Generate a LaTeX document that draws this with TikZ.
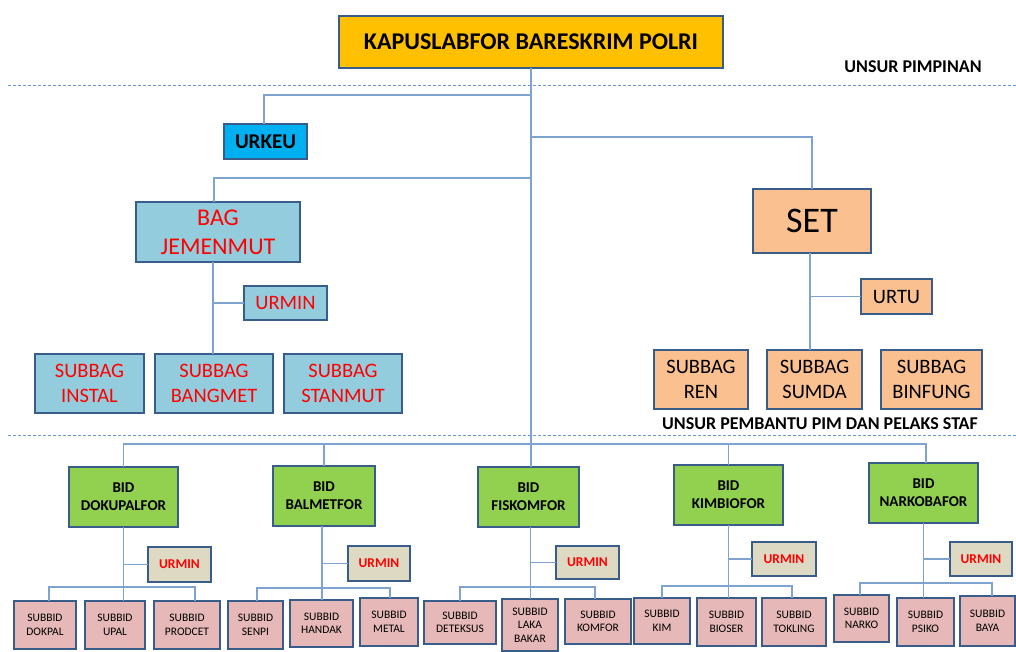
\documentclass[tikz,border=0pt]{standalone}
\usepackage{fontspec}
\setmainfont{Carlito}
\definecolor{bordc}{HTML}{385D8A}
\definecolor{linec}{HTML}{7FA3D0}
\definecolor{dashc}{HTML}{6F97CF}
\definecolor{kapc}{HTML}{FFC000}
\definecolor{urkc}{HTML}{00B0F0}
\definecolor{bagc}{HTML}{93CDDD}
\definecolor{setc}{HTML}{FAC090}
\definecolor{bidc}{HTML}{92D050}
\definecolor{urmc}{HTML}{DDD9C3}
\definecolor{subc}{HTML}{E6B9B8}
\definecolor{redt}{HTML}{FF0000}
\tikzset{
  box/.style={draw=bordc, line width=1.6pt, inner sep=0pt, outer sep=0pt, align=center},
  conn/.style={draw=linec, line width=1.1pt},
  sep/.style={draw=dashc, line width=1pt, dash pattern=on 3pt off 2pt},
  kapbox/.style={box, fill=kapc, font=\fontsize{24}{28}\selectfont\bfseries},
  urkbox/.style={box, fill=urkc, font=\fontsize{21}{25}\selectfont\bfseries},
  bagbox/.style={box, fill=bagc, text=redt, font=\fontsize{24}{29}\selectfont},
  bagsub/.style={box, fill=bagc, text=redt, font=\fontsize{20.5}{25}\selectfont},
  setbox/.style={box, fill=setc, font=\fontsize{36}{40}\selectfont},
  setsub/.style={box, fill=setc, font=\fontsize{20.5}{25}\selectfont},
  bidbox/.style={box, fill=bidc, font=\fontsize{15}{18}\selectfont\bfseries},
  urmbox/.style={box, fill=urmc, text=redt, font=\fontsize{13.5}{16}\selectfont\bfseries},
  subbox/.style={box, fill=subc, font=\fontsize{11.5}{13.5}\selectfont},
  lbl/.style={inner sep=0pt, font=\fontsize{18}{21}\selectfont\bfseries}
}
\begin{document}
\begin{tikzpicture}[x=1pt,y=-1pt]
\useasboundingbox (0,0) rectangle (1016,652);
% separators
\draw[sep] (8,86) -- (1016,86);
\draw[sep] (8,435) -- (1016,435);
% top level
\node[kapbox, minimum width=384, minimum height=52] (kap) at (531,42) {KAPUSLABFOR BARESKRIM POLRI};
\node[lbl, anchor=base] (lp) at (913,73) {UNSUR PIMPINAN};
\node[urkbox, minimum width=83, minimum height=35] (urkeu) at (265.5,141.5) {URKEU};
% BAG
\node[bagbox, minimum width=164, minimum height=60] (bag) at (218,232) {BAG\\JEMENMUT};
\node[bagsub, minimum width=83, minimum height=34] (urmin0) at (285.5,303) {URMIN};
\node[bagsub, minimum width=109, minimum height=59] (instal) at (89.5,383.5) {SUBBAG\\INSTAL};
\node[bagsub, minimum width=118, minimum height=59] (bangmet) at (214,383.5) {SUBBAG\\BANGMET};
\node[bagsub, minimum width=118, minimum height=59] (stanmut) at (343,383.5) {SUBBAG\\STANMUT};
% SET
\node[setbox, minimum width=118, minimum height=64] (set) at (812,221) {SET};
\node[setsub, minimum width=71, minimum height=35] (urtu) at (896.5,296.5) {URTU};
\node[setsub, minimum width=94, minimum height=59] (ren) at (701,379.5) {SUBBAG\\REN};
\node[setsub, minimum width=95, minimum height=59] (sumda) at (814.5,379.5) {SUBBAG\\SUMDA};
\node[setsub, minimum width=101, minimum height=59] (binfung) at (931.5,379.5) {SUBBAG\\BINFUNG};
\node[lbl, anchor=base] (lps) at (820,429) {UNSUR PEMBANTU PIM DAN PELAKS STAF};
% BIDs
\node[bidbox, minimum width=109, minimum height=60] (doku) at (123.5,497) {BID\\DOKUPALFOR};
\node[bidbox, minimum width=102, minimum height=60] (balmet) at (324,496) {BID\\BALMETFOR};
\node[bidbox, minimum width=101, minimum height=60] (fiskom) at (528.5,497) {BID\\FISKOMFOR};
\node[bidbox, minimum width=109, minimum height=60] (kimbio) at (728.5,495) {BID\\KIMBIOFOR};
\node[bidbox, minimum width=109, minimum height=60] (narko) at (923.5,493) {BID\\NARKOBAFOR};
% URMINs
\node[urmbox, minimum width=63, minimum height=35] (u1) at (179.5,564.5) {URMIN};
\node[urmbox, minimum width=62, minimum height=35] (u2) at (379,563.5) {URMIN};
\node[urmbox, minimum width=63, minimum height=33] (u3) at (587.5,562.5) {URMIN};
\node[urmbox, minimum width=64, minimum height=34] (u4) at (784,559) {URMIN};
\node[urmbox, minimum width=62, minimum height=34] (u5) at (981,559) {URMIN};
% SUBBIDs
\node[subbox, minimum width=62, minimum height=48] (dokpal) at (45,625) {SUBBID\\DOKPAL};
\node[subbox, minimum width=60, minimum height=48] (upal) at (115,625) {SUBBID\\UPAL};
\node[subbox, minimum width=66, minimum height=48] (prodcet) at (187,625) {SUBBID\\PRODCET};
\node[subbox, minimum width=55, minimum height=48] (senpi) at (255.5,625) {SUBBID\\SENPI};
\node[subbox, minimum width=63, minimum height=47] (handak) at (321.5,623.5) {SUBBID\\HANDAK};
\node[subbox, minimum width=58, minimum height=48] (metal) at (389,622) {SUBBID\\METAL};
\node[subbox, minimum width=72, minimum height=43] (deteksus) at (460,622.5) {SUBBID\\DETEKSUS};
\node[subbox, minimum width=56, minimum height=52] (laka) at (530,625) {SUBBID\\LAKA\\BAKAR};
\node[subbox, minimum width=66, minimum height=45] (komfor) at (598,621.5) {SUBBID\\KOMFOR};
\node[subbox, minimum width=56, minimum height=46] (kim) at (662,621) {SUBBID\\KIM};
\node[subbox, minimum width=59, minimum height=48] (bioser) at (726.5,622) {SUBBID\\BIOSER};
\node[subbox, minimum width=64, minimum height=48] (tokling) at (794,622) {SUBBID\\TOKLING};
\node[subbox, minimum width=55, minimum height=47] (narkosb) at (861.5,618.5) {SUBBID\\NARKO};
\node[subbox, minimum width=57, minimum height=48] (psiko) at (925.5,622) {SUBBID\\PSIKO};
\node[subbox, minimum width=55, minimum height=50] (baya) at (987.5,621) {SUBBID\\BAYA};
% junction coordinates
\coordinate (jU) at (531,95);
\coordinate (jS) at (531,137);
\coordinate (jB) at (531,178);
\coordinate (jD) at (531,444);
\coordinate (g1) at (49,587);  \coordinate (h1) at (195,587);
\coordinate (g2) at (257,588); \coordinate (h2) at (390,588);
\coordinate (g3) at (460,587); \coordinate (h3) at (595,587);
\coordinate (g4) at (662,586); \coordinate (h4) at (792,586);
\coordinate (g5) at (860,583); \coordinate (h5) at (992,583);
% connectors
\draw[conn] (kap.south) -- (kap.south |- fiskom.north);
\draw[conn] (jU) -| ([xshift=-1.5pt]urkeu.north);
\draw[conn] (jS) -| (set.north);
\draw[conn] (jB) -| ([xshift=-4pt]bag.north);
\draw[conn] ([xshift=-5pt]bag.south) -- ([xshift=-5pt]bag.south |- bangmet.north);
\draw[conn] (urmin0.west) -- ([xshift=-5pt]urmin0.west -| bag.south);
\draw[conn] ([xshift=-2pt]set.south) -- ([xshift=-2pt]set.south |- sumda.north);
\draw[conn] (urtu.west) -- ([xshift=-2pt]urtu.west -| set.south);
\draw[conn] (doku.north) -- (doku.north |- jD) -- ([xshift=2.5pt]narko.north |- jD) -- ([xshift=2.5pt]narko.north);
\draw[conn] (balmet.north) -- (balmet.north |- jD);
\draw[conn] (kimbio.north) -- (kimbio.north |- jD);
% bid children
\draw[conn] (doku.south) -- (doku.south |- upal.north);
\draw[conn] (u1.west) -- (u1.west -| doku.south);
\draw[conn] (g1 |- dokpal.north) -- (g1) -- (h1) -- (h1 |- prodcet.north);
\draw[conn] ([xshift=-2pt]balmet.south) -- ([xshift=-2pt]balmet.south |- handak.north);
\draw[conn] (u2.west) -- ([xshift=-2pt]u2.west -| balmet.south);
\draw[conn] (g2 |- senpi.north) -- (g2) -- (h2) -- (h2 |- metal.north);
\draw[conn] ([xshift=2pt]fiskom.south) -- ([xshift=2pt]fiskom.south |- laka.north);
\draw[conn] (u3.west) -- ([xshift=2pt]u3.west -| fiskom.south);
\draw[conn] (g3 |- deteksus.north) -- (g3) -- (h3) -- (h3 |- komfor.north);
\draw[conn] (kimbio.south) -- (kimbio.south |- bioser.north);
\draw[conn] (u4.west) -- (u4.west -| kimbio.south);
\draw[conn] (g4 |- kim.north) -- (g4) -- (h4) -- (h4 |- tokling.north);
\draw[conn] (narko.south) -- (narko.south |- psiko.north);
\draw[conn] (u5.west) -- (u5.west -| narko.south);
\draw[conn] (g5 |- narkosb.north) -- (g5) -- (h5) -- (h5 |- baya.north);
\end{tikzpicture}
\end{document}
